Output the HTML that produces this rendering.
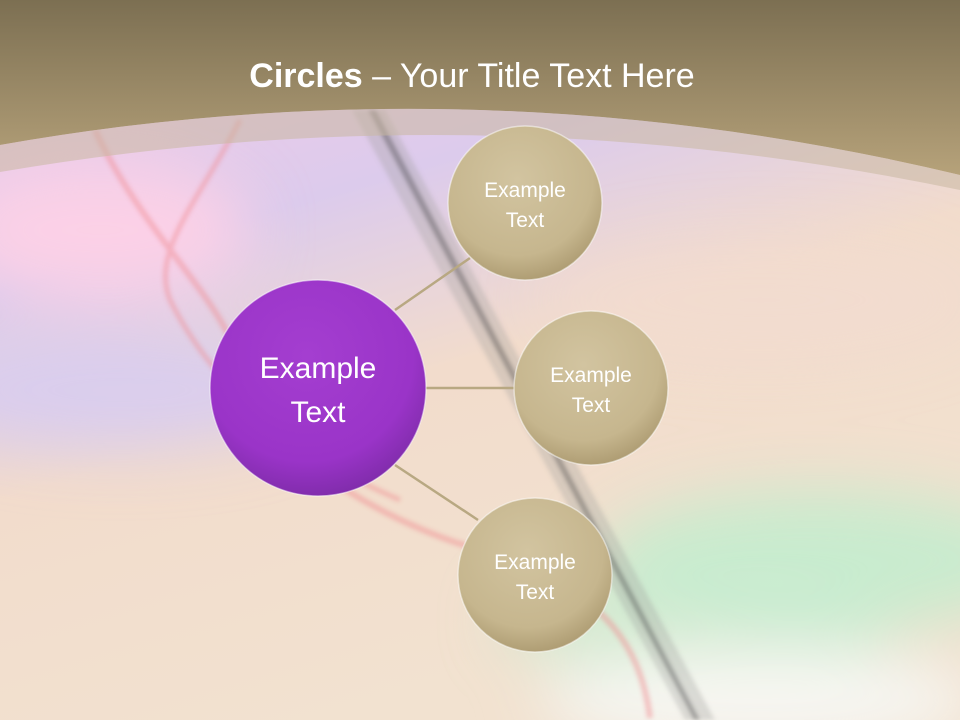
<!DOCTYPE html>
<html><head><meta charset="utf-8"><style>
html,body{margin:0;padding:0;width:960px;height:720px;overflow:hidden}
body{font-family:"Liberation Sans","DejaVu Sans",sans-serif}
#w{position:absolute;left:0;top:0;width:960px;height:720px;overflow:hidden}
svg{display:block;overflow:hidden}
</style></head><body><div id="w">
<svg width="960" height="720" viewBox="0 0 960 720" xmlns="http://www.w3.org/2000/svg">
<defs>
<linearGradient id="bg" x1="0" y1="0" x2="0.4" y2="1">
<stop offset="0" stop-color="#f8cce6"/>
<stop offset="0.35" stop-color="#dccbec"/>
<stop offset="0.6" stop-color="#f2dccc"/>
<stop offset="1" stop-color="#f2e2d0"/>
</linearGradient>
<linearGradient id="hd" x1="0" y1="0" x2="0" y2="1">
<stop offset="0" stop-color="#7c6f52"/>
<stop offset="1" stop-color="#b6a27a"/>
</linearGradient>
<radialGradient id="tan" cx="0.45" cy="0.35" r="0.7">
<stop offset="0" stop-color="#d2c4a0"/>
<stop offset="0.7" stop-color="#c6b68e"/>
<stop offset="1" stop-color="#a8966c"/>
</radialGradient>
<radialGradient id="pur" cx="0.45" cy="0.35" r="0.7">
<stop offset="0" stop-color="#a43ed0"/>
<stop offset="0.7" stop-color="#9a34c8"/>
<stop offset="1" stop-color="#7a2aa4"/>
</radialGradient>
<filter id="bl"><feGaussianBlur stdDeviation="30"/></filter>
<filter id="b2"><feGaussianBlur stdDeviation="2"/></filter>
<clipPath id="cp"><rect width="960" height="720"/></clipPath>
</defs>
<g clip-path="url(#cp)">
<rect width="960" height="720" fill="url(#bg)"/>
<g filter="url(#bl)">
<ellipse cx="820" cy="560" rx="220" ry="70" fill="#c4ecce" opacity="0.9"/>
<ellipse cx="700" cy="620" rx="200" ry="60" fill="#c8ecd2" opacity="0.7"/>
<ellipse cx="760" cy="700" rx="220" ry="50" fill="#f6f6f2"/>
<ellipse cx="760" cy="300" rx="220" ry="60" fill="#f2dcd0" opacity="0.7"/>
<ellipse cx="100" cy="230" rx="150" ry="70" fill="#fbd0e6"/>
<ellipse cx="120" cy="390" rx="200" ry="60" fill="#d8ccf0" opacity="0.9"/>
</g>
<g filter="url(#b2)">
<path d="M352 110 L385 110 L715 720 L685 720 Z" fill="#9a9a98" opacity="0.3"/>
<path d="M368 110 L376 110 L700 720 L694 720 Z" fill="#333" opacity="0.35"/>
</g>
<g filter="url(#b2)" opacity="0.45">
<path d="M95 130 C150 250 250 320 240 390 C300 480 420 540 520 560 C600 600 640 640 650 718" stroke="#f08a90" stroke-width="6" fill="none"/>
<path d="M240 120 C200 200 150 250 170 300 C200 360 260 440 400 500" stroke="#f08a90" stroke-width="5" fill="none"/>
</g>
</g>
<path d="M0 0 H960 V175 Q480 60 0 145 Z" fill="url(#hd)"/>
<path d="M0 145 Q480 60 960 175 L960 190 Q480 90 0 172 Z" fill="#c8b8a0" opacity="0.55"/>
<text x="472" y="87" text-anchor="middle" font-size="34" fill="#fff"><tspan font-weight="bold">Circles</tspan> – Your Title Text Here</text>
<g stroke="#b8a882" stroke-width="2.5">
<line x1="395" y1="310" x2="470" y2="258"/>
<line x1="425" y1="388" x2="515" y2="388"/>
<line x1="395" y1="465" x2="478" y2="520"/>
</g>
<g stroke="#fff" stroke-opacity="0.5" stroke-width="1.5">
<circle cx="318" cy="388" r="108" fill="url(#pur)"/>
<circle cx="525" cy="203" r="77" fill="url(#tan)"/>
<circle cx="591" cy="388" r="77" fill="url(#tan)"/>
<circle cx="535" cy="575" r="77" fill="url(#tan)"/>
</g>
<g fill="#fff" text-anchor="middle">
<text x="318" y="378" font-size="30">Example</text>
<text x="318" y="422" font-size="30">Text</text>
<g font-size="21">
<text x="525" y="197">Example</text><text x="525" y="227">Text</text>
<text x="591" y="382">Example</text><text x="591" y="412">Text</text>
<text x="535" y="569">Example</text><text x="535" y="599">Text</text>
</g>
</g>
</svg>
</div>
</body></html>
